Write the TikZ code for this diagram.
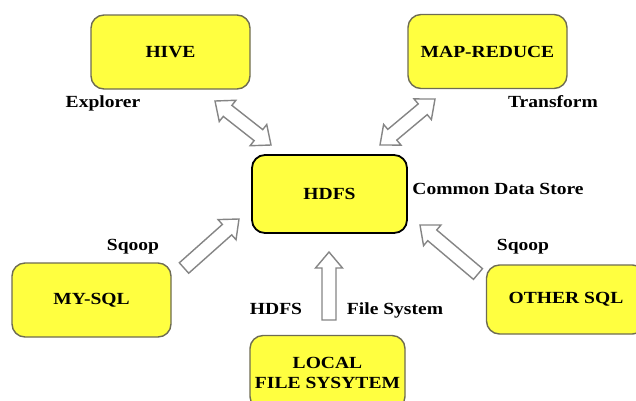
\documentclass[tikz,border=0pt]{standalone}
\usepackage{fontspec}
\setmainfont[FakeStretch=1.15]{Liberation Serif}
\usetikzlibrary{calc}
\definecolor{boxfill}{HTML}{FFFF40}
\definecolor{boxline}{HTML}{6E6C52}
\definecolor{arrline}{HTML}{858585}
\tikzset{
  bx/.style={rectangle, rounded corners=13pt, draw=boxline, fill=boxfill, line width=1.4pt,
             minimum width=159pt, minimum height=74pt, inner sep=2pt, align=center,
             font=\fontsize{17}{20}\selectfont\bfseries},            % tool box
  hub/.style={bx, draw=black, line width=1.8pt},                       % central store
  lbl/.style={anchor=base, inner sep=0pt, font=\fontsize{17}{20}\selectfont\bfseries},
  sa/.style={draw=arrline, fill=white, line width=1.4pt, to path={     % hollow single arrow
      let \p1=(\tikztostart), \p2=(\tikztotarget),
          \n1={atan2(\y2-\y1,\x2-\x1)}, \n2={veclen(\x2-\x1,\y2-\y1)} in
      ($(\p1)+(\n1+90:7pt)$) -- ++(\n1:\n2-16pt) -- ++(\n1+90:6.5pt) -- (\p2)
      -- ++(\n1+220.16:20.93pt) -- ++(\n1+90:6.5pt) -- ++(\n1+180:\n2-16pt) -- cycle}},
  da/.style={draw=arrline, fill=white, line width=1.4pt, to path={     % hollow double arrow
      let \p1=(\tikztostart), \p2=(\tikztotarget),
          \n1={atan2(\y2-\y1,\x2-\x1)}, \n2={veclen(\x2-\x1,\y2-\y1)} in
      (\p1) -- ++(\n1+40.16:20.93pt) -- ++(\n1-90:6.5pt) -- ++(\n1:\n2-32pt)
      -- ++(\n1+90:6.5pt) -- (\p2) -- ++(\n1+220.16:20.93pt) -- ++(\n1+90:6.5pt)
      -- ++(\n1+180:\n2-32pt) -- ++(\n1-90:6.5pt) -- cycle}},
}
\begin{document}
\begin{tikzpicture}[x=1pt, y=-1pt]
  \useasboundingbox (0,0) rectangle (636,400);
  % ---------------- boxes ----------------
  \node[bx] (hive)   at (170.5,52)   {HIVE};
  \node[bx] (mapred) at (487.5,51.5) {MAP-REDUCE};
  \node[hub, minimum width=155pt, minimum height=78pt] (hdfs) at (329.5,194) {HDFS};
  \node[bx] (mysql)  at (91.5,300)   {MY-SQL};
  \node[bx, minimum height=69pt] (other) at (566,299.5) {OTHER SQL};
  \node[bx, minimum width=155pt, minimum height=74pt] (local) at (327.5,372.5) {LOCAL\\FILE SYSYTEM};
  % ---------------- labels ----------------
  \node[lbl] (explorer)  at (103,107) {Explorer};
  \node[lbl] (transform) at (553,107) {Transform};
  \node[lbl] (store)     at (498,194) {Common Data Store};
  \node[lbl] (sqoopl)    at (133,250) {Sqoop};
  \node[lbl] (sqoopr)    at (523,250) {Sqoop};
  \node[lbl] (hdfsl)     at (276,314) {HDFS};
  \node[lbl] (filesys)   at (395,314) {File System};
  % ---------------- arrows ----------------
  \coordinate (hvA) at (215,101);  \coordinate (hvB) at (271,145);
  \coordinate (mrA) at (435,99);   \coordinate (mrB) at (380,145);
  \coordinate (myA) at (184,268);  \coordinate (myB) at (239,219);
  \coordinate (lcA) at (329,320);  \coordinate (lcB) at (329,252);
  \coordinate (otA) at (478,274);  \coordinate (otB) at (420,225);
  \draw[da] (hvA) to (hvB);
  \draw[da] (mrA) to (mrB);
  \foreach \u/\v in {myA/myB,lcA/lcB,otA/otB}
    \draw[sa] (\u) to (\v);
\end{tikzpicture}
\end{document}
